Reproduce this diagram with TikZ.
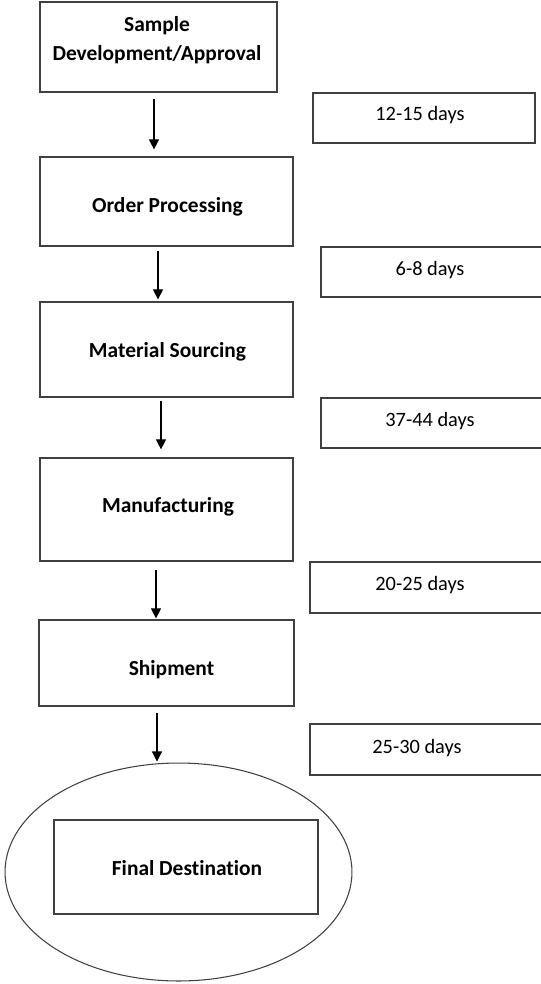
\documentclass[tikz,border=0pt]{standalone}
\usepackage{fontspec}
\setmainfont{Carlito}[Ligatures=NoCommon]
\usetikzlibrary{arrows.meta,calc,shapes.geometric}
\begin{document}
\begin{tikzpicture}[x=0.02cm,y=-0.02cm,
  stagebox/.style={draw=black!75,line width=0.7pt,rectangle,inner sep=0pt},
  daybox/.style={draw=black!75,line width=0.7pt,rectangle,inner sep=0pt,minimum width=4.7cm,minimum height=1cm},
  stagetxt/.style={font=\fontsize{12.2}{16.4}\selectfont\bfseries,align=center,inner sep=0pt},
  daytxt/.style={font=\fontsize{11.6}{14}\selectfont,inner sep=0pt},
  arr/.style={-{Triangle[length=5.7pt,width=5.7pt]},line width=0.6pt}]
\useasboundingbox (0,0) rectangle (541,984);
\clip (0,0) rectangle (541,984);

\node[stagebox,minimum width=4.74cm,minimum height=1.8cm] (samp) at (158.5,47) {};
\node[stagebox,minimum width=5.06cm,minimum height=1.78cm] (ord) at (166.5,201.5) {};
\node[stagebox,minimum width=5.06cm,minimum height=1.9cm] (mat) at (166.5,349.5) {};
\node[stagebox,minimum width=5.06cm,minimum height=2.06cm] (man) at (166.5,509.5) {};
\node[stagebox,minimum width=5.1cm,minimum height=1.72cm] (ship) at (166.5,663) {};
\node[draw=black!75,line width=0.6pt,ellipse,minimum width=6.94cm,minimum height=4.36cm] (ell) at (178.5,872) {};
\node[stagebox,minimum width=5.28cm,minimum height=1.88cm] (dest) at (186,867) {};
\node[stagetxt] (samptxt) at (157,40) {Sample\\Development/Approval};
\node[stagetxt] (ordtxt) at (167.5,207) {Order Processing};
\node[stagetxt] (mattxt) at (167.5,352) {Material Sourcing};
\node[stagetxt] (mantxt) at (168,507) {Manufacturing};
\node[stagetxt] (shiptxt) at (171.5,670) {Shipment};
\node[stagetxt] (desttxt) at (187,868) {Final Destination};

\node[daybox,minimum width=4.44cm] (d1) at (424,118) {};
\node[daybox,minimum width=4.48cm] (d2) at (433,272) {};
\node[daybox,minimum width=4.48cm] (d3) at (433,423) {};
\node[daybox,minimum width=4.7cm,minimum height=1.02cm] (d4) at (427.5,587.5) {};
\node[daybox,minimum width=4.7cm,minimum height=1.02cm] (d5) at (427.5,749.5) {};
\node[daytxt] (t1) at (420,115) {12-15 days};
\node[daytxt] (t2) at (430,270) {6-8 days};
\node[daytxt] (t3) at (430,421) {37-44 days};
\node[daytxt] (t4) at (420,585) {20-25 days};
\node[daytxt] (t5) at (417,748) {25-30 days};

\draw[arr] ($(samp.south)+(-4.5,6)$) -- ($(ord.north)+(-12.5,-7)$);
\draw[arr] ($(ord.south)+(-8.5,4)$) -- ($(mat.north)+(-8.5,-2)$);
\draw[arr] ($(mat.south)+(-5.5,3)$) -- ($(man.north)+(-5.5,-8)$);
\draw[arr] ($(man.south)+(-10.5,8)$) -- ($(ship.north)+(-10.5,-1)$);
\draw[arr] ($(ship.south)+(-9.5,6)$) -- ($(ell.north)+(-21.5,-1)$);
\end{tikzpicture}
\end{document}
